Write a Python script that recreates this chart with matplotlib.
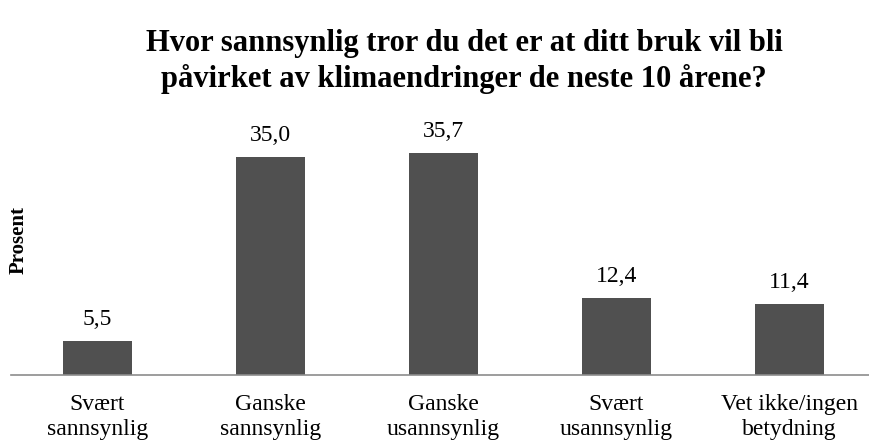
import matplotlib.pyplot as plt

categories = ["Svært\nsannsynlig", "Ganske\nsannsynlig", "Ganske\nusannsynlig",
              "Svært\nusannsynlig", "Vet ikke/ingen\nbetydning"]
values = [5.5, 35.0, 35.7, 12.4, 11.4]
value_labels = ["5,5", "35,0", "35,7", "12,4", "11,4"]

plt.rcParams['font.family'] = ['Liberation Serif', 'DejaVu Serif']

fig = plt.figure(figsize=(8.69, 4.48), dpi=100)
# axes: left edge at x=11px, bottom at y=375px
ax = fig.add_axes([11 / 869, 73 / 448, 858 / 869, 249 / 448])

x = list(range(len(categories)))
ax.bar(x, values, width=0.4, color='#505050', zorder=2)
for xi, v, lab in zip(x, values, value_labels):
    ax.text(xi, v + 2.6, lab, ha='center', va='baseline', fontsize=17)

ax.set_ylim(0, 40)
# spacing 173 px per category, first center at 97.5 px
ax.set_xlim((11 - 97.5) / 173, (869 - 97.5) / 173)
ax.set_xticks(x)
ax.set_xticklabels(categories, fontsize=17, linespacing=1.25)
ax.tick_params(axis='x', length=0, pad=14)
ax.set_yticks([])
for s in ['top', 'right', 'left']:
    ax.spines[s].set_visible(False)
ax.spines['bottom'].set_color('#8c8c8c')
ax.spines['bottom'].set_linewidth(1.2)

fig.text(19 / 869, 1 - 240 / 448, "Prosent", rotation=90, ha='center', va='center',
         fontsize=15, fontweight='bold')
fig.text(464 / 869, 1 - 29 / 448,
         "Hvor sannsynlig tror du det er at ditt bruk vil bli\npåvirket av klimaendringer de neste 10 årene?",
         ha='center', va='top', fontsize=22, fontweight='bold', linespacing=1.25)

plt.savefig('out.png', dpi=100)
